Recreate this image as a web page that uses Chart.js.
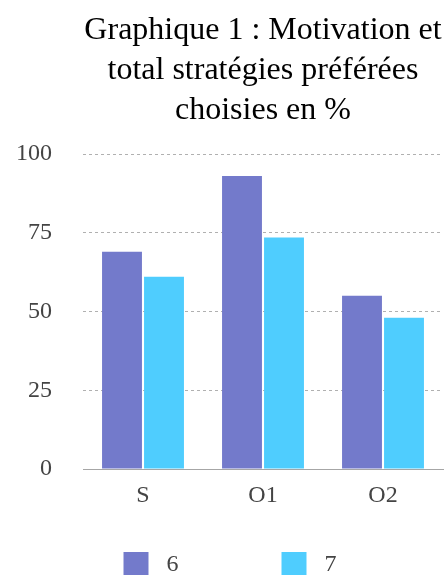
<!DOCTYPE html>
<html>
<head>
<meta charset="utf-8">
<script src="https://cdn.jsdelivr.net/npm/chart.js@4"></script>
<style>
  html, body { margin: 0; padding: 0; background: #fff; }
  #wrap { width: 445px; height: 575px; }
</style>
</head>
<body>
<div id="wrap"><canvas id="chart1"></canvas></div>
<script>
var categories = ['S', 'O1', 'O2'];
var seriesNames = ['6', '7'];
var values6 = [69, 93, 55];
var values7 = [61, 73.5, 48];
var yTicks = [0, 25, 50, 75, 100];

var serif = '"Liberation Serif", "Times New Roman", serif';

var ctx = document.getElementById('chart1').getContext('2d');
var myChart = new Chart(ctx, {
    type: 'bar',
    data: {
        labels: categories,
        datasets: [
            {
                label: seriesNames[0],
                data: values6,
                backgroundColor: '#737acb',
                borderWidth: 0
            },
            {
                label: seriesNames[1],
                data: values7,
                backgroundColor: '#4fcdfe',
                borderWidth: 0
            }
        ]
    },
    options: {
        responsive: true,
        maintainAspectRatio: false,
        animation: false,
        categoryPercentage: 0.7,
        barPercentage: 0.95,
        layout: {
            padding: { left: 0, right: 2, top: 11, bottom: -12 }
        },
        plugins: {
            title: {
                display: true,
                fullSize: false,
                text: ['Graphique 1 : Motivation et', 'total stratégies préférées', 'choisies en %'],
                color: '#000000',
                font: { family: serif, size: 32, weight: 'normal', lineHeight: 1.25 },
                padding: { top: 0, bottom: 23 }
            },
            legend: {
                position: 'bottom',
                fullSize: false,
                labels: {
                    color: '#444444',
                    boxWidth: 25,
                    boxHeight: 25,
                    padding: 1,
                    font: { family: serif, size: 24 },
                    generateLabels: function (chart) {
                        var items = Chart.defaults.plugins.legend.labels.generateLabels(chart);
                        items.forEach(function (it, i) {
                            it.text = ' ' + it.text + (i === 0 ? '\u2003\u2003\u2003\u2003 ' : '\u2003\u2003   ');
                        });
                        return items;
                    }
                }
            },
            tooltip: { enabled: false }
        },
        scales: {
            x: {
                afterFit: function (axis) { axis.height = 82; },
                grid: { display: false },
                border: { display: true, color: '#a6a6a6', width: 1 },
                ticks: {
                    color: '#444444',
                    padding: 4,
                    font: { family: serif, size: 24 }
                }
            },
            y: {
                min: 0,
                max: 100,
                afterBuildTicks: function (axis) {
                    axis.ticks = yTicks.map(function (v) { return { value: v }; });
                },
                afterFit: function (axis) { axis.width = 83; },
                border: { display: false, dash: [3, 3] },
                grid: {
                    color: '#b0b0b0',
                    drawTicks: false
                },
                ticks: {
                    color: '#444444',
                    padding: 31,
                    font: { family: serif, size: 24 }
                }
            }
        }
    }
});
</script>
</body>
</html>
